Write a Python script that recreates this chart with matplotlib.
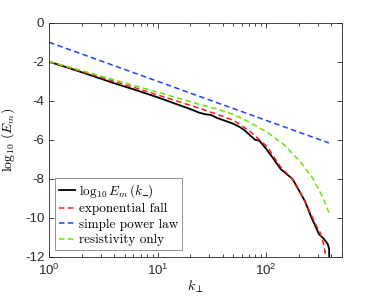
import numpy as np
import matplotlib
matplotlib.use("Agg")
import matplotlib.pyplot as plt
from matplotlib.ticker import FixedLocator, FuncFormatter, LogLocator, NullFormatter

plt.rcParams['mathtext.fontset'] = 'cm'
plt.rcParams['font.family'] = 'Liberation Sans'

# black: measured spectrum (log10 k, log10 E)
black_logk = [0.0, 0.2, 0.4, 0.6, 0.8, 1.0, 1.2, 1.3, 1.39, 1.45, 1.49, 1.55, 1.62,
              1.70, 1.76, 1.80, 1.85, 1.90, 1.94, 2.00, 2.06, 2.136, 2.20, 2.244,
              2.32, 2.36, 2.417, 2.45, 2.49, 2.53, 2.57, 2.583, 2.584]
black_val = [-2.00, -2.35, -2.72, -3.10, -3.45, -3.82, -4.22, -4.42, -4.62, -4.70, -4.72,
             -4.88, -5.02, -5.18, -5.35, -5.50, -5.75, -6.00, -6.05, -6.45, -6.90, -7.50,
             -7.80, -8.00, -8.75, -9.15, -9.95, -10.35, -10.85, -11.05, -11.35, -11.6, -12.5]

# red: exponential fall
red_logk = [0.0, 0.3, 0.6, 0.934, 1.2, 1.395, 1.55, 1.70, 1.85, 2.013, 2.136, 2.26,
            2.35, 2.41, 2.46, 2.50, 2.53, 2.553, 2.56]
red_val = [-2.0, -2.5, -3.0, -3.58, -4.05, -4.40, -4.70, -5.00, -5.55, -6.36, -7.40,
           -8.10, -9.05, -9.75, -10.35, -10.75, -11.30, -12.0, -12.3]

# blue: simple power law
blue_logk = [0.0, 2.58]
blue_val = [-1.0, -6.16]

# green: resistivity only
green_logk = [0.0, 0.3, 0.6, 0.934, 1.2, 1.395, 1.55, 1.70, 1.85, 2.013, 2.167, 2.32,
              2.43, 2.52, 2.59]
green_val = [-1.98, -2.45, -2.93, -3.45, -3.88, -4.20, -4.42, -4.70, -5.10, -5.62,
             -6.25, -7.15, -7.95, -8.90, -9.85]

labels = [r'$\log_{10}E_m\,(k\_)$', 'exponential fall', 'simple power law', 'resistivity only']

fig = plt.figure(figsize=(3.78, 3.0), dpi=100)
ax = fig.add_axes([0.130, 0.144, 0.774, 0.780])

dash = (3.6, 2.2)
ax.plot(10 ** np.array(black_logk), black_val, color='k', lw=1.3, label=labels[0])
ax.plot(10 ** np.array(red_logk), red_val, color='#ff1a1a', lw=1.1, dashes=dash, label=labels[1])
ax.plot(10 ** np.array(blue_logk), blue_val, color='#2040ff', lw=1.1, dashes=dash, label=labels[2])
ax.plot(10 ** np.array(green_logk), green_val, color='#66e600', lw=1.1, dashes=dash, label=labels[3])

ax.set_xscale('log')
ax.set_xlim(1, 500)
ax.set_ylim(-12, 0)

gray = '#262626'
ax.yaxis.set_major_locator(FixedLocator([0, -2, -4, -6, -8, -10, -12]))
ax.yaxis.set_major_formatter(FuncFormatter(lambda v, p: '%d' % v))
ax.xaxis.set_major_locator(LogLocator(base=10))
ax.xaxis.set_minor_locator(LogLocator(base=10, subs=np.arange(2, 10)))
ax.xaxis.set_minor_formatter(NullFormatter())
ax.xaxis.set_major_formatter(FuncFormatter(lambda v, p: r'$\mathregular{10^{%d}}$' % round(np.log10(v))))
ax.tick_params(which='both', direction='in', top=True, right=True, colors=gray,
               labelsize=9.5, width=0.6)
ax.tick_params(which='major', length=3.5)
ax.tick_params(which='minor', length=2)
ax.tick_params(axis='x', pad=4)
for s in ax.spines.values():
    s.set_color(gray)
    s.set_linewidth(0.6)

ax.set_xlabel(r'$k_\perp$', fontsize=10, labelpad=1)
ax.set_ylabel(r'$\log_{10}\,(E_m)$', fontsize=10, labelpad=6)

leg = ax.legend(loc='lower left', bbox_to_anchor=(0.02, 0.028), prop={'family': 'cmr10', 'size': 9.5},
                handlelength=1.2, handletextpad=0.3, labelspacing=0.25, borderpad=0.3,
                borderaxespad=0, fancybox=False, framealpha=1, edgecolor='#808080')
leg.get_frame().set_linewidth(0.6)

fig.savefig('out.png', dpi=100)
